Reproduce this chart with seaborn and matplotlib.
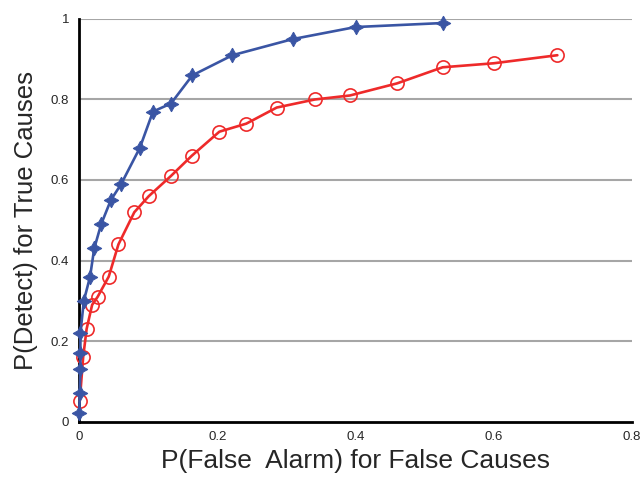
import numpy as np
import pandas as pd
import matplotlib
matplotlib.use("Agg")
import matplotlib.pyplot as plt
import seaborn as sns

# values
true_fa = [0.0005, 0.001, 0.002, 0.002, 0.002, 0.007, 0.016, 0.022, 0.032, 0.046,
           0.061, 0.088, 0.107, 0.133, 0.164, 0.222, 0.309, 0.400, 0.527]
true_pd = [0.02, 0.07, 0.13, 0.17, 0.22, 0.30, 0.36, 0.43, 0.49, 0.55,
           0.59, 0.68, 0.77, 0.79, 0.86, 0.91, 0.95, 0.98, 0.99]

false_fa = [0.001, 0.006, 0.011, 0.019, 0.027, 0.043, 0.057, 0.080, 0.101, 0.133,
            0.163, 0.203, 0.242, 0.286, 0.341, 0.392, 0.460, 0.526, 0.600, 0.692]
false_pd = [0.05, 0.16, 0.23, 0.29, 0.31, 0.36, 0.44, 0.52, 0.56, 0.61,
            0.66, 0.72, 0.74, 0.78, 0.80, 0.81, 0.84, 0.88, 0.89, 0.91]

x_ticks = [0, 0.2, 0.4, 0.6, 0.8]
x_tick_labels = ["0", "0.2", "0.4", "0.6", "0.8"]
y_ticks = [0, 0.2, 0.4, 0.6, 0.8, 1.0]
y_tick_labels = ["0", "0.2", "0.4", "0.6", "0.8", "1"]

sns.set_style("white")
plt.rcParams["font.family"] = ["Liberation Sans", "DejaVu Sans"]

fig = plt.figure(figsize=(6.44, 4.82), dpi=100)
ax = fig.add_axes([0.1227, 0.1255, 0.8587, 0.8351])

# horizontal grid
for yv in y_ticks[1:]:
    ax.axhline(yv, color="#A6A6A6", linewidth=1.5, zorder=1)

sns.lineplot(x=false_fa, y=false_pd, sort=False, estimator=None, ax=ax,
             color="#EE2A2A", linewidth=1.9, marker="o", markersize=9.5,
             markerfacecolor="none", markeredgecolor="#EE2A2A",
             markeredgewidth=1.2, clip_on=False, zorder=3)
sns.lineplot(x=true_fa, y=true_pd, sort=False, estimator=None, ax=ax,
             color="#3A55A4", linewidth=1.9, marker=(4, 1, 0), markersize=10.5,
             markerfacecolor="#3A55A4", markeredgecolor="#3A55A4",
             clip_on=False, zorder=4)

ax.set_xlim(0, 0.8)
ax.set_ylim(0, 1)
ax.set_xticks(x_ticks)
ax.set_xticklabels(x_tick_labels, fontsize=9.5)
ax.set_yticks(y_ticks)
ax.set_yticklabels(y_tick_labels, fontsize=9.5)
ax.tick_params(axis="both", direction="out", length=4, width=1.5, color="black", pad=3)

sns.despine(ax=ax)
for side in ["left", "bottom"]:
    ax.spines[side].set_color("black")
    ax.spines[side].set_linewidth(2)

ax.set_xlabel("P(False  Alarm) for False Causes", fontsize=19, labelpad=4)
ax.set_ylabel("P(Detect) for True Causes", fontsize=18.5, labelpad=9)

fig.savefig("out.png", dpi=100)
